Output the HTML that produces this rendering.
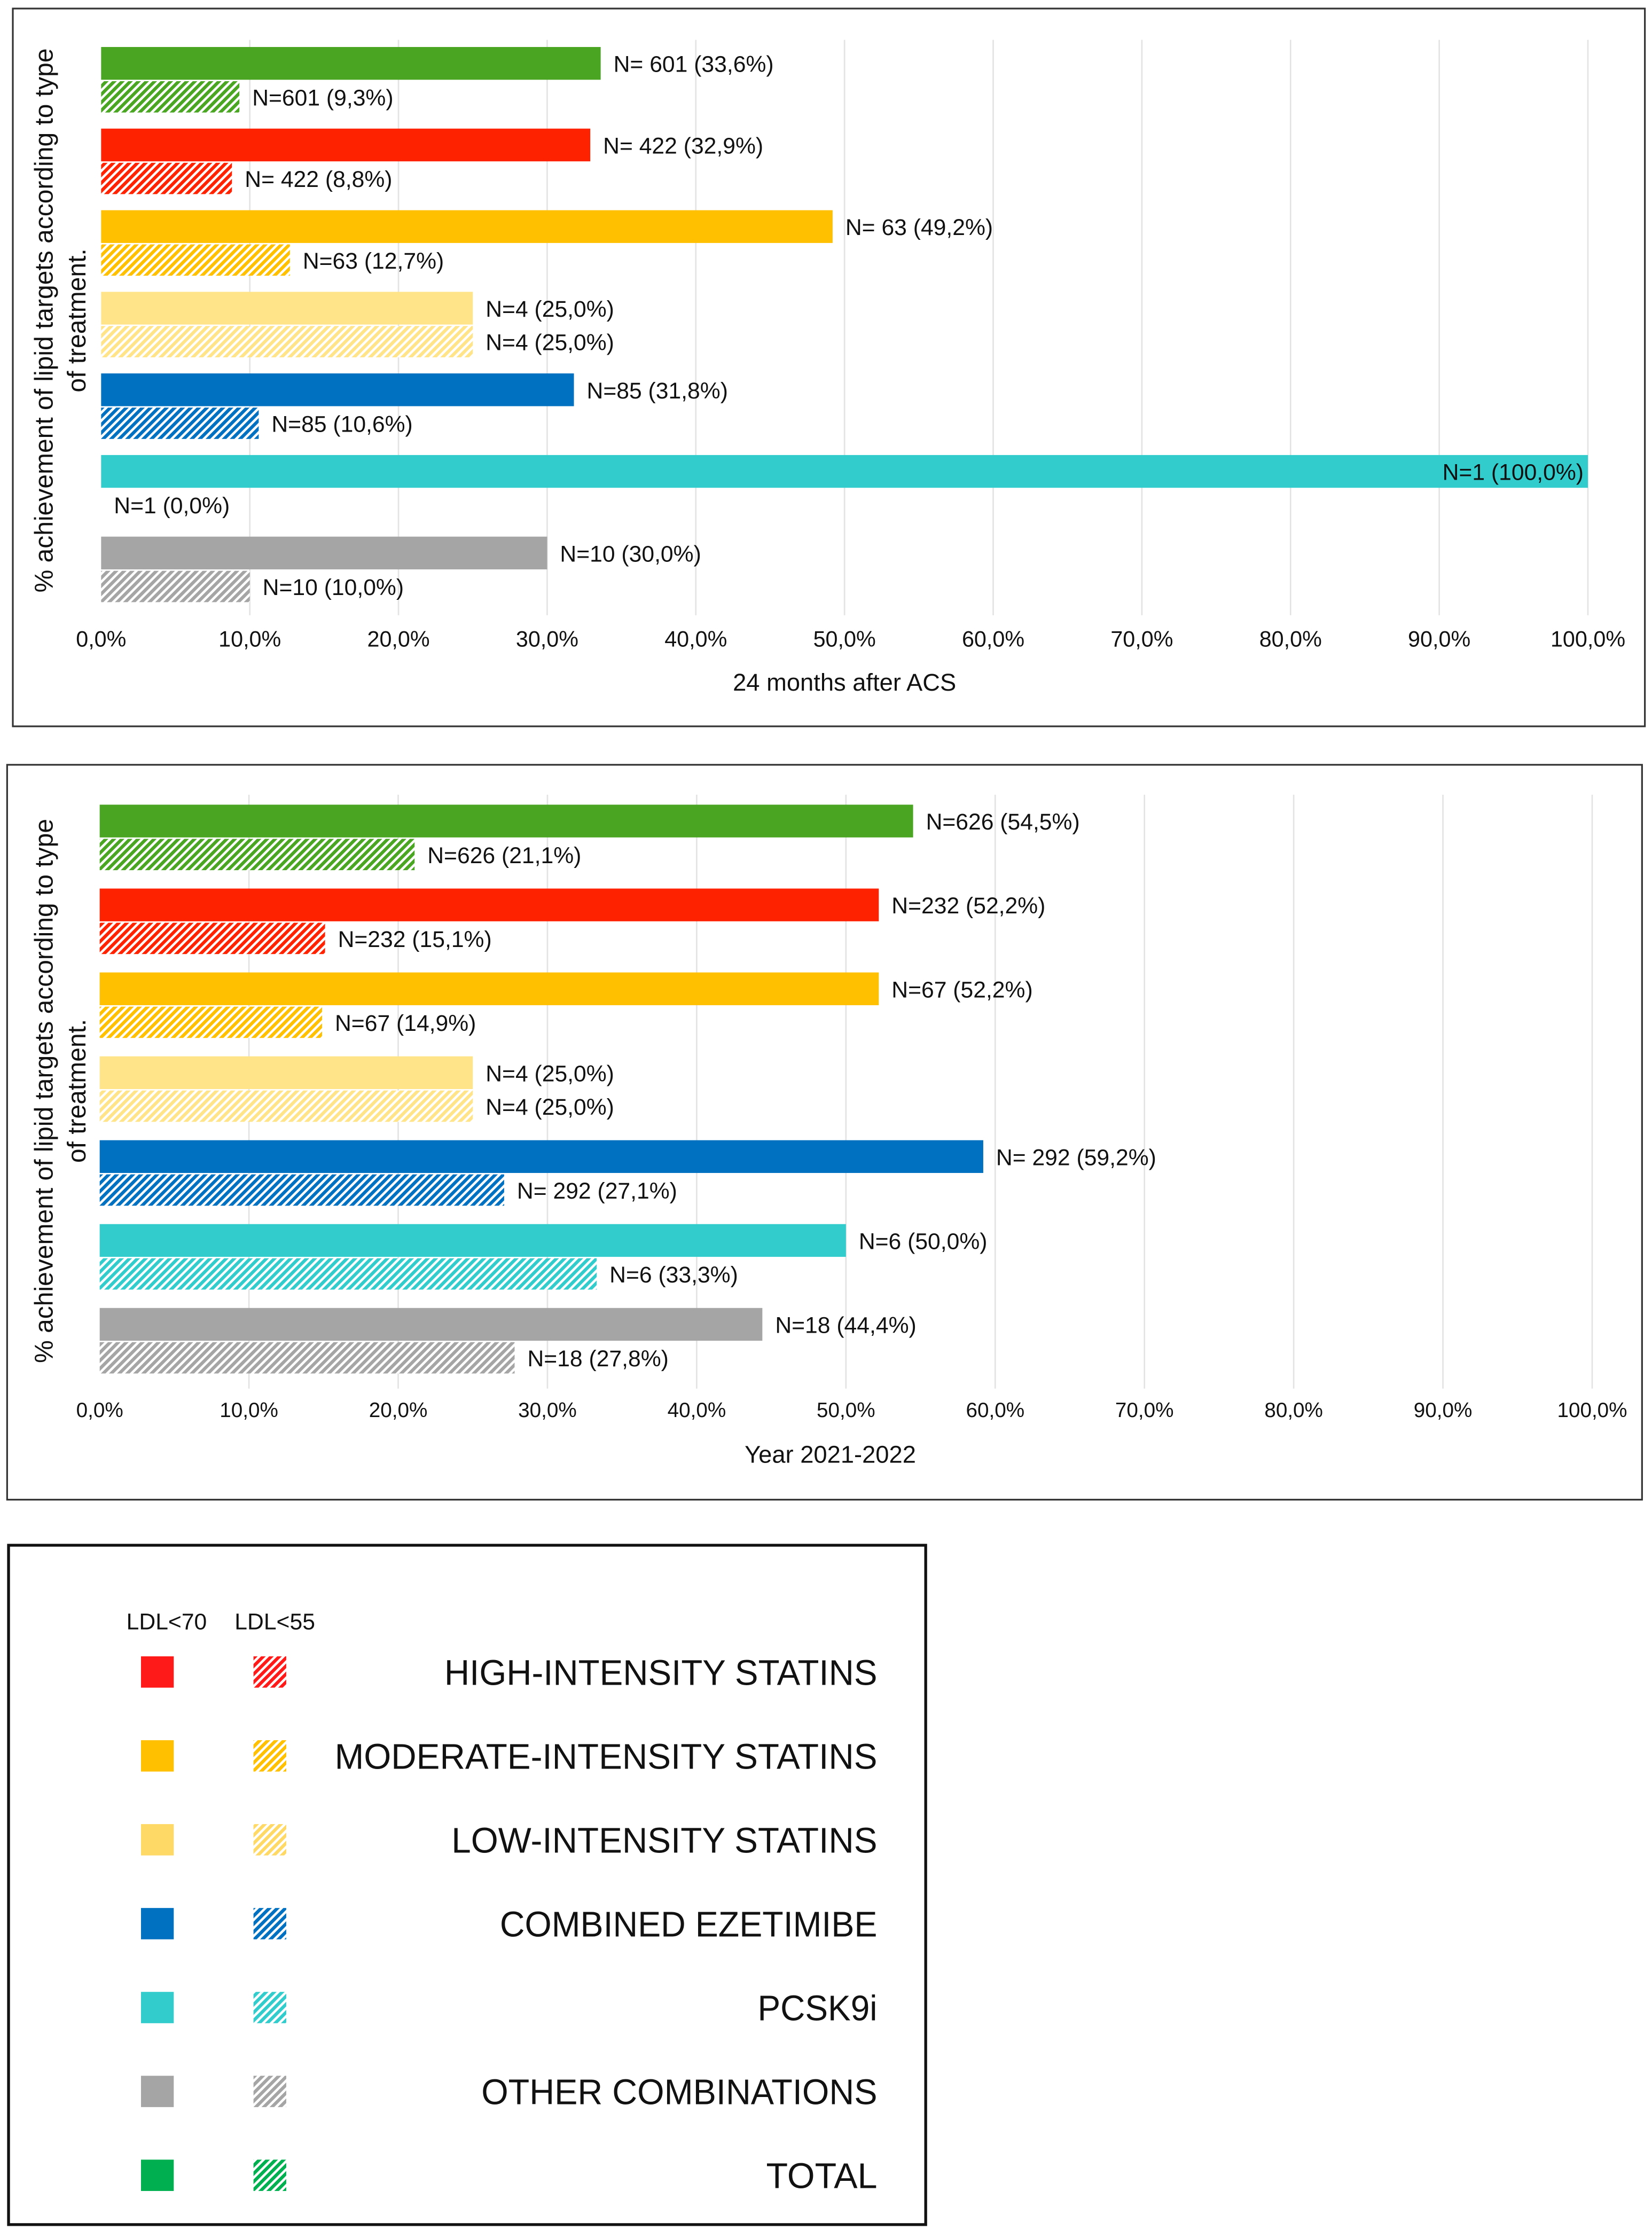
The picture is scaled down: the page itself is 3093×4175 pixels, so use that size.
<!DOCTYPE html>
<html><head><meta charset="utf-8"><style>
html,body{margin:0;padding:0;background:#fff}
svg{display:block}
text{font-family:"Liberation Sans",sans-serif;fill:#111}
</style></head><body>
<svg id="s" width="3093" height="4175" viewBox="0 0 1160 1565.8" xmlns="http://www.w3.org/2000/svg">
<defs id="defs"></defs>
<rect x="9" y="6" width="1146" height="504" fill="none" stroke="#333" stroke-width="1.2"/>
<rect x="5" y="537" width="1148" height="516" fill="none" stroke="#333" stroke-width="1.2"/>
<g id="c1"></g>
<g id="c2"></g>
<g id="leg">
<rect x="6" y="1085" width="644" height="477" fill="none" stroke="#111" stroke-width="2"/>
<text x="117" y="1144" font-size="16" text-anchor="middle" font-family="Liberation Sans Narrow, Liberation Sans, sans-serif">LDL&lt;70</text>
<text x="193" y="1144" font-size="16" text-anchor="middle" font-family="Liberation Sans Narrow, Liberation Sans, sans-serif">LDL&lt;55</text>
</g>
</svg>
<script>
const cats1=["TOTAL","HIGH","MODERATE","LOW","EZETIMIBE","PCSK9i","OTHER"];
const solid1=[33.6,32.9,49.2,25.0,31.8,100.0,30.0];
const hatch1=[9.3,8.8,12.7,25.0,10.6,0.0,10.0];
const solidLab1=["N= 601 (33,6%)","N= 422 (32,9%)","N= 63 (49,2%)","N=4 (25,0%)","N=85 (31,8%)","N=1 (100,0%)","N=10 (30,0%)"];
const hatchLab1=["N=601 (9,3%)","N= 422 (8,8%)","N=63 (12,7%)","N=4 (25,0%)","N=85 (10,6%)","N=1 (0,0%)","N=10 (10,0%)"];
const solid2=[54.5,52.2,52.2,25.0,59.2,50.0,44.4];
const hatch2=[21.1,15.1,14.9,25.0,27.1,33.3,27.8];
const solidLab2=["N=626 (54,5%)","N=232 (52,2%)","N=67 (52,2%)","N=4 (25,0%)","N= 292 (59,2%)","N=6 (50,0%)","N=18 (44,4%)"];
const hatchLab2=["N=626 (21,1%)","N=232 (15,1%)","N=67 (14,9%)","N=4 (25,0%)","N= 292 (27,1%)","N=6 (33,3%)","N=18 (27,8%)"];
const ticks=["0,0%","10,0%","20,0%","30,0%","40,0%","50,0%","60,0%","70,0%","80,0%","90,0%","100,0%"];
const legLabels=["HIGH-INTENSITY STATINS","MODERATE-INTENSITY STATINS","LOW-INTENSITY STATINS","COMBINED EZETIMIBE","PCSK9i","OTHER COMBINATIONS","TOTAL"];
const legWidths=[304,381,299,265,84,278,78];
const colors=["#4aa522","#ff2200","#ffc000","#ffe48a","#0070c0","#33cccc","#a5a5a5"];
const legColors=["#ff1a1a","#ffc000","#ffd966","#0070c0","#33cccc","#a5a5a5","#00b050"];
const NS="http://www.w3.org/2000/svg";
const defs=document.getElementById('defs');
function mk(t,a,p){const e=document.createElementNS(NS,t);for(const k in a)e.setAttribute(k,a[k]);p.appendChild(e);return e;}
function pat(id,c){const p=mk('pattern',{id:id,width:4,height:4,patternUnits:'userSpaceOnUse',patternTransform:'rotate(45)'},defs);
mk('rect',{x:0,y:0,width:4,height:4,fill:'#fff'},p);mk('rect',{x:0,y:0,width:2.3,height:4,fill:c},p);}
colors.forEach((c,i)=>pat('h'+i,c));legColors.forEach((c,i)=>pat('l'+i,c));
function chart(g,o){
 const x=v=>o.x0+(o.x1-o.x0)*v/100;
 ticks.forEach((t,i)=>{const v=i*10;
  if(i>0){const l=mk('line',{x1:x(v),x2:x(v),y1:o.gTop,y2:o.gBot,stroke:'#e3e3e3','stroke-width':1},g);
  }
  const tx=mk('text',{x:x(v),y:o.tickY,'font-size':o.tickFs,'text-anchor':'middle'},g);tx.textContent=t;
  });
 o.solid.forEach((v,i)=>{const y=o.top+i*o.step;
  const r=mk('rect',{x:x(0),y:y,width:x(v)-x(0),height:o.h1,fill:colors[i]},g);
  
  const inside=v>=95;
  const t=mk('text',{x:inside?x(v)-3:x(v)+9,y:y+o.h1/2+6,'font-size':16,'text-anchor':inside?'end':'start'},g);t.textContent=o.sl[i];
  
  const hv=o.hatch[i];const yh=y+o.h1+1;
  const r2=mk('rect',{x:x(0),y:yh,width:x(hv)-x(0),height:o.h2,fill:'url(#h'+i+')'},g);
  
  const t2=mk('text',{x:x(hv)+9,y:yh+o.h2/2+6,'font-size':16},g);t2.textContent=o.hl[i];
  });
 const xt=mk('text',{x:o.titleX,y:o.titleY,'font-size':17,'text-anchor':'middle'},g);xt.textContent=o.title;
 
 const yt=mk('text',{transform:'translate(37,'+o.yc+') rotate(-90)','font-size':18,'text-anchor':'middle'},g);
 
 const a=mk('tspan',{x:0,y:0},yt);a.textContent='% achievement of lipid targets according to type';
 const b=mk('tspan',{x:0,y:23},yt);b.textContent='of treatment.';
}
chart(document.getElementById('c1'),{x0:71,x1:1115,top:33,step:57.3,h1:23,h2:22,solid:solid1,hatch:hatch1,sl:solidLab1,hl:hatchLab1,gTop:28,gBot:432,tickY:454,tickFs:15.5,title:'24 months after ACS',titleX:593,titleY:485,yc:225});
chart(document.getElementById('c2'),{x0:70,x1:1118,top:565,step:58.9,h1:23,h2:22,solid:solid2,hatch:hatch2,sl:solidLab2,hl:hatchLab2,gTop:558,gBot:975,tickY:995,tickFs:14.5,title:'Year 2021-2022',titleX:583,titleY:1027,yc:766});
const lg=document.getElementById('leg');
legLabels.forEach((l,i)=>{const yc=1174+i*58.9;
 const r=mk('rect',{x:99,y:yc-11,width:23,height:22,fill:legColors[i]},lg);
 
 const r2=mk('rect',{x:178,y:yc-11,width:23,height:22,fill:'url(#l'+i+')'},lg);
 
 const t=mk('text',{x:616,y:yc+9,'font-size':25,'text-anchor':'end',textLength:legWidths[i],lengthAdjust:'spacingAndGlyphs'},lg);t.textContent=l;
 });
</script>
</body></html>
